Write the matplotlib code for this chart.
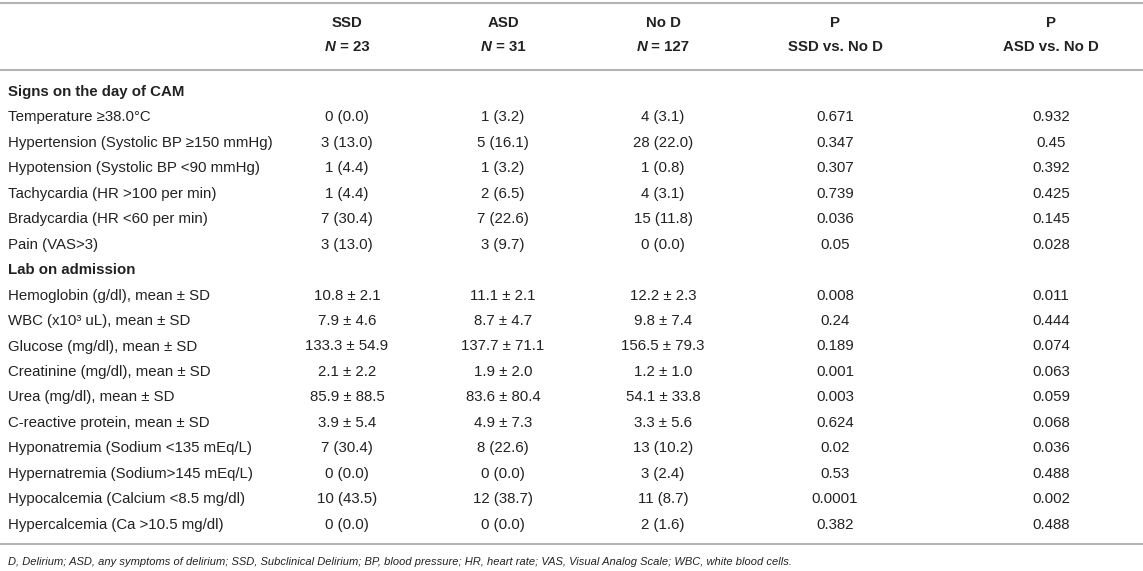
import matplotlib
matplotlib.use("Agg")
import matplotlib.pyplot as plt

plt.rcParams['font.family'] = ['Liberation Sans', 'DejaVu Sans']

# ---- data ----
groups = ["SSD", "ASD", "No D", "P", "P"]
group_sub = ["N = 23", "N = 31", "N = 127", "SSD vs. No D", "ASD vs. No D"]

section1 = "Signs on the day of CAM"
labels1 = [
    "Temperature \u226538.0\u00b0C",
    "Hypertension (Systolic BP \u2265150 mmHg)",
    "Hypotension (Systolic BP <90 mmHg)",
    "Tachycardia (HR >100 per min)",
    "Bradycardia (HR <60 per min)",
    "Pain (VAS>3)",
]
ssd1 = ["0 (0.0)", "3 (13.0)", "1 (4.4)", "1 (4.4)", "7 (30.4)", "3 (13.0)"]
asd1 = ["1 (3.2)", "5 (16.1)", "1 (3.2)", "2 (6.5)", "7 (22.6)", "3 (9.7)"]
nod1 = ["4 (3.1)", "28 (22.0)", "1 (0.8)", "4 (3.1)", "15 (11.8)", "0 (0.0)"]
p_ssd1 = ["0.671", "0.347", "0.307", "0.739", "0.036", "0.05"]
p_asd1 = ["0.932", "0.45", "0.392", "0.425", "0.145", "0.028"]

section2 = "Lab on admission"
labels2 = [
    "Hemoglobin (g/dl), mean \u00b1 SD",
    "WBC (x10\u00b3 uL), mean \u00b1 SD",
    "Glucose (mg/dl), mean \u00b1 SD",
    "Creatinine (mg/dl), mean \u00b1 SD",
    "Urea (mg/dl), mean \u00b1 SD",
    "C-reactive protein, mean \u00b1 SD",
    "Hyponatremia (Sodium <135 mEq/L)",
    "Hypernatremia (Sodium>145 mEq/L)",
    "Hypocalcemia (Calcium <8.5 mg/dl)",
    "Hypercalcemia (Ca >10.5 mg/dl)",
]
ssd2 = ["10.8 \u00b1 2.1", "7.9 \u00b1 4.6", "133.3 \u00b1 54.9", "2.1 \u00b1 2.2",
        "85.9 \u00b1 88.5", "3.9 \u00b1 5.4", "7 (30.4)", "0 (0.0)", "10 (43.5)", "0 (0.0)"]
asd2 = ["11.1 \u00b1 2.1", "8.7 \u00b1 4.7", "137.7 \u00b1 71.1", "1.9 \u00b1 2.0",
        "83.6 \u00b1 80.4", "4.9 \u00b1 7.3", "8 (22.6)", "0 (0.0)", "12 (38.7)", "0 (0.0)"]
nod2 = ["12.2 \u00b1 2.3", "9.8 \u00b1 7.4", "156.5 \u00b1 79.3", "1.2 \u00b1 1.0",
        "54.1 \u00b1 33.8", "3.3 \u00b1 5.6", "13 (10.2)", "3 (2.4)", "11 (8.7)", "2 (1.6)"]
p_ssd2 = ["0.008", "0.24", "0.189", "0.001", "0.003", "0.624", "0.02", "0.53", "0.0001", "0.382"]
p_asd2 = ["0.011", "0.444", "0.074", "0.063", "0.059", "0.068", "0.036", "0.488", "0.002", "0.488"]

footnote = ("D, Delirium; ASD, any symptoms of delirium; SSD, Subclinical Delirium; "
            "BP, blood pressure; HR, heart rate; VAS, Visual Analog Scale; WBC, white blood cells.")

# ---- layout (pixel coordinates) ----
W, H = 1143, 571
fig = plt.figure(figsize=(W / 100, H / 100), dpi=100)
ax = fig.add_axes([0, 0, 1, 1])
ax.set_xlim(0, W)
ax.set_ylim(H, 0)
ax.axis("off")

txt = "#222222"
line_c = "#b4b4b4"
fs = 10.8
col_x = [347, 503, 663, 835, 1051]
label_x = 8
row0 = 92.0
dy = 25.45

# rules
for yl in (3, 70, 544):
    ax.plot([0, W], [yl, yl], color=line_c, lw=1.5, solid_capstyle="butt")

# header
pairs = []
for j, (g, s) in enumerate(zip(groups, group_sub)):
    ax.text(col_x[j], 23, g, ha="center", va="center", fontsize=fs, fontweight="bold", color=txt)
    if s.startswith("N = "):
        t1 = ax.text(col_x[j], 47, "N", ha="right", va="center", fontsize=fs,
                     fontweight="bold", fontstyle="italic", color=txt)
        t2 = ax.text(col_x[j], 47, s[1:], ha="left", va="center", fontsize=fs,
                     fontweight="bold", color=txt)
        pairs.append((t1, t2))
    else:
        ax.text(col_x[j], 47, s, ha="center", va="center", fontsize=fs, fontweight="bold", color=txt)

# center the combined "N = xx" strings
fig.canvas.draw()
renderer = fig.canvas.get_renderer()
for t1, t2 in pairs:
    w1 = t1.get_window_extent(renderer).width
    w2 = t2.get_window_extent(renderer).width
    x0 = t1.get_position()[0]
    shift = (w1 - w2) / 2.0
    t1.set_x(x0 + shift)
    t2.set_x(x0 + shift)

rows = [(section1, None)] + [(l, (a, b, c, d, e)) for l, a, b, c, d, e in
                             zip(labels1, ssd1, asd1, nod1, p_ssd1, p_asd1)]
rows += [(section2, None)] + [(l, (a, b, c, d, e)) for l, a, b, c, d, e in
                              zip(labels2, ssd2, asd2, nod2, p_ssd2, p_asd2)]

for i, (lab, vals) in enumerate(rows):
    y = row0 + i * dy
    if vals is None:
        ax.text(label_x, y, lab, ha="left", va="center", fontsize=fs, fontweight="bold", color=txt)
    else:
        ax.text(label_x, y, lab, ha="left", va="center", fontsize=fs, color=txt)
        for j, v in enumerate(vals):
            ax.text(col_x[j], y, v, ha="center", va="center", fontsize=fs, color=txt)

ax.text(label_x, 562, footnote, ha="left", va="center", fontsize=8.0,
        fontstyle="italic", color=txt)

fig.savefig("out.png", dpi=100)
